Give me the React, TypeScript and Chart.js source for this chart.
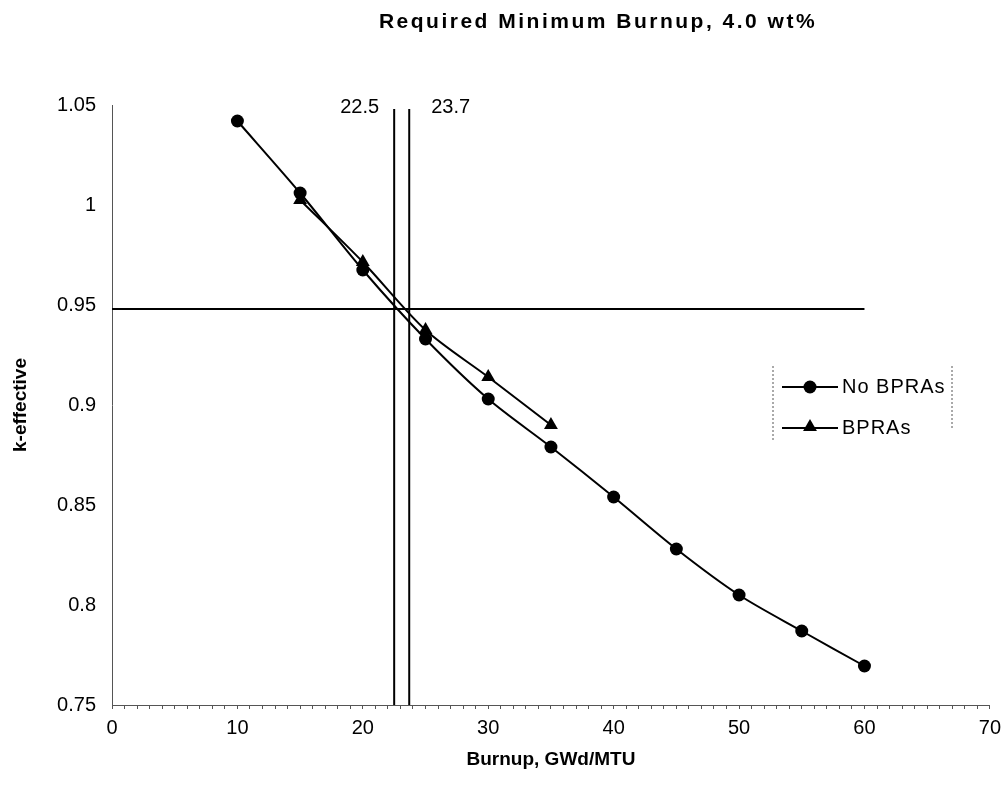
import React, { useEffect, useRef } from 'react';
import { Chart, registerables } from 'chart.js';

Chart.register(...registerables);

const TITLE = 'Required Minimum Burnup, 4.0 wt%';
const X_TITLE = 'Burnup, GWd/MTU';
const Y_TITLE = 'k-effective';

const seriesNames = ['No BPRAs', 'BPRAs'];

const burnupNoBpra = [10, 15, 20, 25, 30, 35, 40, 45, 50, 55, 60];
const keffNoBpra = [1.042, 1.006, 0.9675, 0.933, 0.903, 0.879, 0.854, 0.828, 0.805, 0.787, 0.7695];

const burnupBpra = [15, 20, 25, 30, 35];
const keffBpra = [1.0025, 0.9715, 0.9375, 0.914, 0.89];

const limitK = 0.948;
const limitBurnupRange = [0, 60];

const requiredBurnups = [22.5, 23.7];
const requiredLabels = ['22.5', '23.7'];
const requiredKRange = [0.75, 1.048];

const xTickValues = [0, 10, 20, 30, 40, 50, 60, 70];
const xTickLabels = ['0', '10', '20', '30', '40', '50', '60', '70'];
const yTickValues = [0.75, 0.8, 0.85, 0.9, 0.95, 1.0, 1.05];
const yTickLabels = ['0.75', '0.8', '0.85', '0.9', '0.95', '1', '1.05'];

const FONT = '"Liberation Sans", Arial, Helvetica, sans-serif';

function drawTriangle(ctx: CanvasRenderingContext2D, x: number, y: number, r: number) {
  let rad = 0;
  const step = (2 * Math.PI) / 3;
  ctx.beginPath();
  ctx.moveTo(x + Math.sin(rad) * r, y - Math.cos(rad) * r);
  rad += step;
  ctx.lineTo(x + Math.sin(rad) * r, y - Math.cos(rad) * r);
  rad += step;
  ctx.lineTo(x + Math.sin(rad) * r, y - Math.cos(rad) * r);
  ctx.closePath();
  ctx.fill();
}

const overlayPlugin = {
  id: 'overlay',
  afterDraw(chart: any) {
    const { ctx } = chart;
    const xs = chart.scales.x;
    const ys = chart.scales.y;
    ctx.save();
    ctx.fillStyle = '#000';
    // Title
    ctx.font = `bold 21px ${FONT}`;
    (ctx as any).letterSpacing = '2.5px';
    ctx.textAlign = 'center';
    ctx.textBaseline = 'middle';
    ctx.fillText(TITLE, 598, 22);

    // Required burnup labels
    (ctx as any).letterSpacing = '0px';
    ctx.font = `20px ${FONT}`;
    const ly = ys.getPixelForValue(yTickValues[yTickValues.length - 1]) + 2;
    ctx.textAlign = 'right';
    ctx.fillText(requiredLabels[0], xs.getPixelForValue(requiredBurnups[0]) - 15, ly);
    ctx.textAlign = 'left';
    ctx.fillText(requiredLabels[1], xs.getPixelForValue(requiredBurnups[1]) + 22, ly);

    // Legend
    const lLeft = 773;
    const lRight = 952;
    const lTop = 366;
    const lBottom = 442;
    ctx.strokeStyle = '#555';
    ctx.lineWidth = 1;
    ctx.setLineDash([2, 2]);
    ctx.beginPath();
    ctx.moveTo(lLeft, lTop);
    ctx.lineTo(lLeft, lBottom);
    ctx.moveTo(lRight, lTop);
    ctx.lineTo(lRight, lBottom - 12);
    ctx.stroke();
    ctx.setLineDash([]);

    const rows = [387, 428];
    rows.forEach((ry, i) => {
      ctx.strokeStyle = '#000';
      ctx.lineWidth = 2;
      ctx.beginPath();
      ctx.moveTo(782, ry);
      ctx.lineTo(838, ry);
      ctx.stroke();
      ctx.fillStyle = '#000';
      if (i === 0) {
        ctx.beginPath();
        ctx.arc(810, ry, 6.5, 0, Math.PI * 2);
        ctx.fill();
      } else {
        drawTriangle(ctx, 810, ry - 1, 8);
      }
      ctx.font = `20px ${FONT}`;
      (ctx as any).letterSpacing = '1px';
      ctx.textAlign = 'left';
      ctx.textBaseline = 'middle';
      ctx.fillText(seriesNames[i], 842, ry);
    });
    ctx.restore();
  },
};

export default function App() {
  const ref = useRef<HTMLCanvasElement>(null);

  useEffect(() => {
    if (!ref.current) return;
    const chart = new Chart(ref.current, {
      type: 'scatter',
      data: {
        datasets: [
          {
            label: seriesNames[0],
            data: burnupNoBpra.map((b, i) => ({ x: b, y: keffNoBpra[i] })),
            showLine: true,
            borderColor: '#000',
            backgroundColor: '#000',
            borderWidth: 2,
            tension: 0.3,
            pointStyle: 'circle',
            pointRadius: 6.5,
            pointBorderWidth: 0,
          },
          {
            label: seriesNames[1],
            data: burnupBpra.map((b, i) => ({ x: b, y: keffBpra[i] })),
            showLine: true,
            borderColor: '#000',
            backgroundColor: '#000',
            borderWidth: 2,
            tension: 0.3,
            pointStyle: 'triangle',
            pointRadius: 8,
            pointBorderWidth: 0,
          },
          {
            label: 'limit',
            data: limitBurnupRange.map((b) => ({ x: b, y: limitK })),
            showLine: true,
            borderColor: '#000',
            borderWidth: 2,
            pointRadius: 0,
            tension: 0,
          },
          ...requiredBurnups.map((b) => ({
            label: 'required ' + b,
            data: requiredKRange.map((k) => ({ x: b, y: k })),
            showLine: true,
            borderColor: '#000',
            borderWidth: 2,
            pointRadius: 0,
            tension: 0,
          })),
        ],
      },
      options: {
        responsive: false,
        animation: false,
        layout: { padding: { top: 105, right: 14, left: 0, bottom: 0 } },
        plugins: {
          legend: { display: false },
          title: { display: false },
          tooltip: { enabled: false },
        },
        scales: {
          x: {
            type: 'linear',
            min: 0,
            max: 70,
            afterFit: (s: any) => {
              s.height = 81;
            },
            grid: {
              display: true,
              drawOnChartArea: false,
              drawTicks: true,
              tickLength: 4,
              color: '#555',
              lineWidth: 1,
            },
            border: { display: true, color: '#555', width: 1, dash: [1, 2] },
            ticks: {
              stepSize: 1,
              autoSkip: false,
              maxRotation: 0,
              padding: 7,
              color: '#000',
              font: { family: FONT, size: 20 },
              callback: (v: any) => {
                const i = xTickValues.indexOf(Number(v));
                return i >= 0 ? xTickLabels[i] : '';
              },
            },
            title: {
              display: true,
              text: X_TITLE,
              color: '#000',
              font: { family: FONT, size: 19, weight: 'bold' },
              padding: { top: 0, bottom: 15 },
            },
          },
          y: {
            type: 'linear',
            min: 0.75,
            max: 1.05,
            afterFit: (s: any) => {
              s.width = 112;
            },
            afterBuildTicks: (s: any) => {
              s.ticks = yTickValues.map((v) => ({ value: v }));
            },
            grid: { display: false, drawTicks: false },
            border: { display: true, color: '#555', width: 1, dash: [2, 2] },
            ticks: {
              padding: 16,
              color: '#000',
              font: { family: FONT, size: 20 },
              callback: (v: any) => {
                const i = yTickValues.findIndex((t) => Math.abs(t - Number(v)) < 1e-6);
                return i >= 0 ? yTickLabels[i] : '';
              },
            },
            title: {
              display: true,
              text: Y_TITLE,
              color: '#000',
              font: { family: FONT, size: 19, weight: 'bold' },
              padding: { top: 9, bottom: 0 },
            },
          },
        },
      },
      plugins: [overlayPlugin],
    } as any);
    return () => chart.destroy();
  }, []);

  return (
    <div style={{ position: 'absolute', left: 0, top: 0, width: 1008, height: 786, background: '#fff' }}>
      <canvas ref={ref} width={1008} height={786} />
    </div>
  );
}
